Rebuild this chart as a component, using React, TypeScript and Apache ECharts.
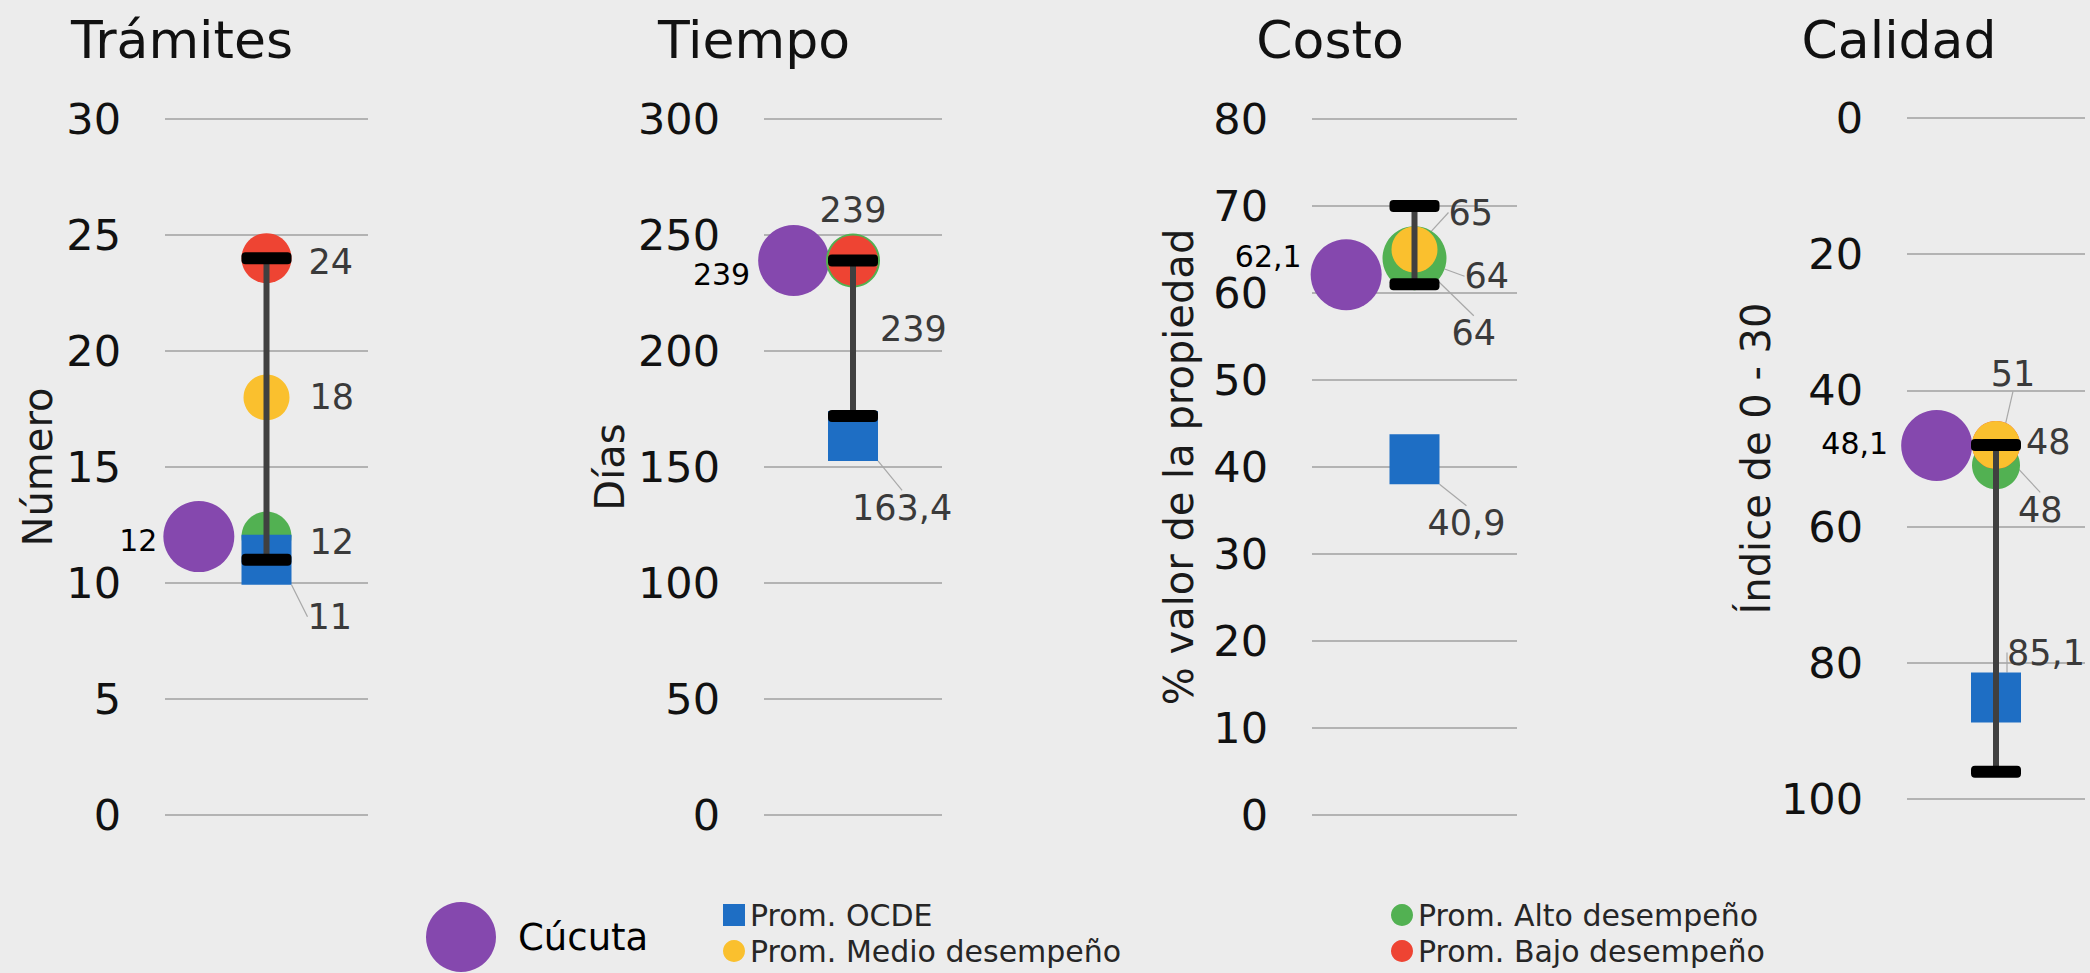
import React, { useEffect, useRef } from 'react';
import * as echarts from 'echarts';

// ---- data ----
const panelTitles = ['Trámites', 'Tiempo', 'Costo', 'Calidad'];
const axisNames = ['Número', 'Días', '% valor de la propiedad', 'Índice de 0 - 30'];
const yMax = [30, 300, 80, 100];
const yStep = [5, 50, 10, 20];
const yInverse = [false, false, false, true];
const xSlots = ['Cúcuta', 'Promedios', ''];
const cucuta = [12, 239, 62.1, 48.1];
const promOCDE = [11, 163.4, 40.9, 85.1];
const promAlto = [12, 239, 64, 51];
const promMedio = [18, 239, 65, 48];
const promBajo = [24, 239, 64, 48];
const rangeLow = [11, 172, 61, 48];
const rangeHigh = [24, 239, 70, 96];

// ---- layout / style ----
const FONT = 'DejaVu Sans';
const gridLeft = [165, 764, 1312, 1907];
const gridWidth = [203, 178, 205, 178];
const gridTop = [119, 119, 119, 118];
const gridHeight = [696, 696, 696, 681];
const titleX = [182, 754, 1330, 1899];
const nameGap = [107, 134, 113, 131];

const COLORS = {
  cucuta: '#8548ae',
  ocde: '#1e6ec4',
  alto: '#52b152',
  medio: '#fac02e',
  bajo: '#ee4433',
};

type LP = { show?: boolean; position?: string; distance?: number; dx?: number; dy?: number; line?: boolean };

const labelPlacement: Record<string, LP[]> = {
  cucuta: [
    { position: 'left', distance: 6, dy: 4 },
    { position: 'left', distance: 8, dy: 14 },
    { position: 'left', distance: 9, dy: -18 },
    { position: 'left', distance: 13, dy: -2 },
  ],
  alto: [
    { position: 'right', distance: 18, dy: 5 },
    { position: 'right', distance: 0, dy: 68 },
    { position: 'right', distance: 18, dy: 18, line: true },
    { position: 'top', distance: 5, dx: 17, dy: -45, line: true },
  ],
  medio: [
    { position: 'right', distance: 20 },
    { show: false },
    { position: 'right', distance: 11, dy: -37, line: true },
    { position: 'right', distance: 6, dy: -3 },
  ],
  bajo: [
    { position: 'right', distance: 17, dy: 4 },
    { position: 'top', distance: 8 },
    { position: 'right', distance: 14, dy: 75, line: true },
    { position: 'right', distance: 0, dx: -2, dy: 65, line: true },
  ],
  ocde: [
    { position: 'right', distance: 16, dy: 57, line: true },
    { position: 'right', distance: 0, dx: -26, dy: 72, line: true },
    { position: 'right', distance: 0, dx: -12, dy: 64, line: true },
    { position: 'right', distance: 0, dx: -14, dy: -45, line: true },
  ],
};

const sizes: Record<string, number[]> = {
  cucuta: [71, 71, 71, 71],
  ocde: [50, 50, 50, 50],
  alto: [50, 54, 64, 48],
  medio: [46, 46, 46, 48],
  bajo: [50, 50, 46, 48],
};

// drawing order per panel (later = on top)
const drawOrder = [
  ['alto', 'medio', 'bajo', 'ocde'],
  ['alto', 'medio', 'bajo', 'ocde'],
  ['bajo', 'alto', 'medio', 'ocde'],
  ['alto', 'bajo', 'medio', 'ocde'],
];

const seriesInfo: Record<string, { name: string; values: number[]; symbol: string }> = {
  cucuta: { name: 'Cúcuta', values: cucuta, symbol: 'circle' },
  ocde: { name: 'Prom. OCDE', values: promOCDE, symbol: 'rect' },
  alto: { name: 'Prom. Alto desempeño', values: promAlto, symbol: 'circle' },
  medio: { name: 'Prom. Medio desempeño', values: promMedio, symbol: 'circle' },
  bajo: { name: 'Prom. Bajo desempeño', values: promBajo, symbol: 'circle' },
};

const fmt = (v: number) => String(v).replace('.', ',');

function makeScatter(key: string, p: number) {
  const info = seriesInfo[key];
  const lp = labelPlacement[key][p];
  const isCucuta = key === 'cucuta';
  return {
    type: 'scatter',
    name: info.name,
    xAxisIndex: p,
    yAxisIndex: p,
    symbol: info.symbol,
    symbolSize: sizes[key][p],
    itemStyle: { color: COLORS[key as keyof typeof COLORS], opacity: 1 },
    data: [[isCucuta ? xSlots[0] : xSlots[1], info.values[p]]],
    label: {
      show: lp.show !== false,
      position: lp.position || 'right',
      distance: lp.distance ?? 5,
      fontFamily: FONT,
      fontSize: isCucuta ? 30 : 35,
      color: isCucuta ? '#000000' : '#3a3a3a',
      formatter: (pr: any) => fmt(pr.value[1]),
    },
    labelLayout: { dx: lp.dx || 0, dy: lp.dy || 0 },
    labelLine: {
      show: !!lp.line,
      lineStyle: { color: '#a8a8a8', width: 1.2 },
    },
    emphasis: { disabled: true },
    z: 2,
  };
}

function makeErrorBar(p: number) {
  return {
    type: 'custom',
    name: 'rango',
    xAxisIndex: p,
    yAxisIndex: p,
    data: [[xSlots[1], rangeLow[p], rangeHigh[p]]],
    encode: { x: 0, y: [1, 2] },
    renderItem: (params: any, api: any) => {
      const lo = api.coord([api.value(0), api.value(1)]);
      const hi = api.coord([api.value(0), api.value(2)]);
      const w = 50;
      const h = 12;
      return {
        type: 'group',
        children: [
          {
            type: 'line',
            shape: { x1: lo[0], y1: lo[1], x2: hi[0], y2: hi[1] },
            style: { stroke: '#404040', lineWidth: 6 },
          },
          {
            type: 'rect',
            shape: { x: lo[0] - w / 2, y: lo[1] - h / 2, width: w, height: h, r: 4 },
            style: { fill: '#000000' },
          },
          {
            type: 'rect',
            shape: { x: hi[0] - w / 2, y: hi[1] - h / 2, width: w, height: h, r: 4 },
            style: { fill: '#000000' },
          },
        ],
      };
    },
    silent: true,
    z: 3,
  };
}

function smallLegend(name: string, icon: string, left: number, top: number) {
  return {
    data: [{ name, icon }],
    left,
    top,
    padding: 0,
    itemWidth: 22,
    itemHeight: 22,
    selectedMode: false,
    textStyle: { fontSize: 30, fontFamily: FONT, color: '#262626' },
  };
}

function buildOption() {
  const grid = panelTitles.map((_, p) => ({
    left: gridLeft[p],
    top: gridTop[p],
    width: gridWidth[p],
    height: gridHeight[p],
  }));
  const xAxis = panelTitles.map((_, p) => ({
    type: 'category',
    gridIndex: p,
    data: xSlots,
    boundaryGap: true,
    show: false,
  }));
  const yAxis = panelTitles.map((_, p) => ({
    type: 'value',
    gridIndex: p,
    min: 0,
    max: yMax[p],
    interval: yStep[p],
    inverse: yInverse[p],
    axisLine: { show: false },
    axisTick: { show: false },
    splitLine: { show: true, lineStyle: { color: '#b3b3b3', width: 2 } },
    axisLabel: { margin: 44, fontSize: 43, fontFamily: FONT, color: '#111111' },
    name: axisNames[p],
    nameLocation: 'middle',
    nameGap: nameGap[p],
    nameTextStyle: { fontSize: 40, fontFamily: FONT, color: '#1a1a1a' },
  }));
  const series: any[] = [];
  panelTitles.forEach((_, p) => {
    series.push(makeScatter('cucuta', p));
    drawOrder[p].forEach((k) => series.push(makeScatter(k, p)));
    series.push(makeErrorBar(p));
  });
  const graphic = panelTitles.map((t, p) => ({
    type: 'text',
    x: titleX[p],
    y: 40,
    style: {
      text: t,
      fontSize: 52,
      fontFamily: FONT,
      fill: '#111111',
      align: 'center',
      verticalAlign: 'middle',
    },
  }));
  const legend = [
    {
      data: [{ name: 'Cúcuta', icon: 'circle' }],
      left: 426,
      top: 902,
      padding: 0,
      itemWidth: 70,
      itemHeight: 70,
      selectedMode: false,
      textStyle: { fontSize: 37, fontFamily: FONT, color: '#000000', padding: [0, 0, 0, 17] },
    },
    smallLegend('Prom. OCDE', 'rect', 723, 900),
    smallLegend('Prom. Medio desempeño', 'circle', 723, 936),
    smallLegend('Prom. Alto desempeño', 'circle', 1391, 900),
    smallLegend('Prom. Bajo desempeño', 'circle', 1391, 936),
  ];
  return {
    animation: false,
    backgroundColor: '#ececec',
    textStyle: { fontFamily: FONT },
    grid,
    xAxis,
    yAxis,
    series,
    graphic,
    legend,
  };
}

export default function App() {
  const ref = useRef<HTMLDivElement>(null);
  useEffect(() => {
    document.body.style.margin = '0';
    document.body.style.background = '#ececec';
    if (!ref.current) return;
    const chart = echarts.init(ref.current, null, { renderer: 'svg' });
    chart.setOption(buildOption() as any);
    return () => chart.dispose();
  }, []);
  return (
    <div
      ref={ref}
      style={{ position: 'absolute', left: 0, top: 0, width: 2090, height: 973 }}
    />
  );
}
